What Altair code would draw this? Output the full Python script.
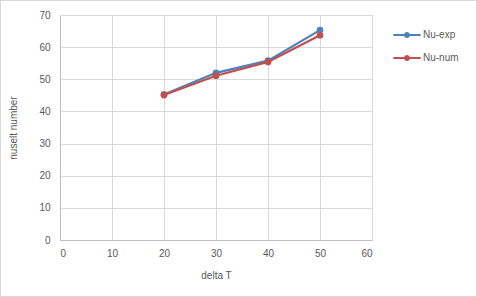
import altair as alt
import pandas as pd

delta_t = [20, 30, 40, 50]
nu_exp = [45.3, 52.0, 55.8, 65.3]
nu_num = [45.1, 51.1, 55.4, 63.7]
series = ["Nu-exp", "Nu-num"]
colors = ["#4F81BD", "#C0504D"]

rows = []
for name, vals in zip(series, [nu_exp, nu_num]):
    for t, v in zip(delta_t, vals):
        rows.append({"dT": t, "Nu": v, "series": name})
df = pd.DataFrame(rows)

font = "Liberation Sans"
sym = "M-1,-0.07H1V0.07H-1Z M0.22,0A0.22,0.22 0 1 1 -0.22,0A0.22,0.22 0 1 1 0.22,0Z"

x = alt.X("dT:Q", title="delta T",
          scale=alt.Scale(domain=[0, 60], nice=False),
          axis=alt.Axis(values=[0, 10, 20, 30, 40, 50, 60], labelOverlap=False))
y = alt.Y("Nu:Q", title="nuselt number",
          scale=alt.Scale(domain=[0, 70], nice=False),
          axis=alt.Axis(values=[0, 10, 20, 30, 40, 50, 60, 70], labelOverlap=False))
color = alt.Color("series:N", scale=alt.Scale(domain=series, range=colors),
                  legend=alt.Legend(title=None, orient="none", legendX=333, legendY=6,
                                    symbolType=sym, symbolSize=750,
                                    symbolStrokeWidth=0,
                                    rowPadding=4, labelOffset=2))

border = alt.Chart(df).mark_rect(fill=None, stroke="#D9D9D9", strokeWidth=1).encode(
    x=alt.value(-59.5), x2=alt.value(416.5), y=alt.value(-14.5), y2=alt.value(281.5))

layers = []
for s in series:
    sub = df[df.series == s]
    layers.append(alt.Chart(sub).mark_line(strokeWidth=2.2).encode(x=x, y=y, color=color, order="dT:Q"))
    layers.append(alt.Chart(sub).mark_circle(size=45, opacity=1).encode(x=x, y=y, color=color))

chart = alt.layer(*layers, border).properties(
    width=312, height=225,
    background="white",
    autosize=alt.AutoSizeParams(type="none"),
    padding={"left": 60, "top": 15, "right": 105, "bottom": 57},
).configure_view(stroke="#D9D9D9").configure_axis(
    grid=True, gridColor="#D9D9D9", domainColor="#BFBFBF", ticks=False,
    labelFont=font, labelFontSize=10, labelColor="#595959", labelPadding=8,
    titleFont=font, titleFontSize=10, titleColor="#595959", titleFontWeight="normal",
).configure_axisY(titlePadding=20, labelPadding=10).configure_axisX(titlePadding=12).configure_legend(
    labelFont=font, labelFontSize=10, labelColor="#595959"
)

chart.save("out.html", embed_options={"renderer": "svg", "actions": False})
